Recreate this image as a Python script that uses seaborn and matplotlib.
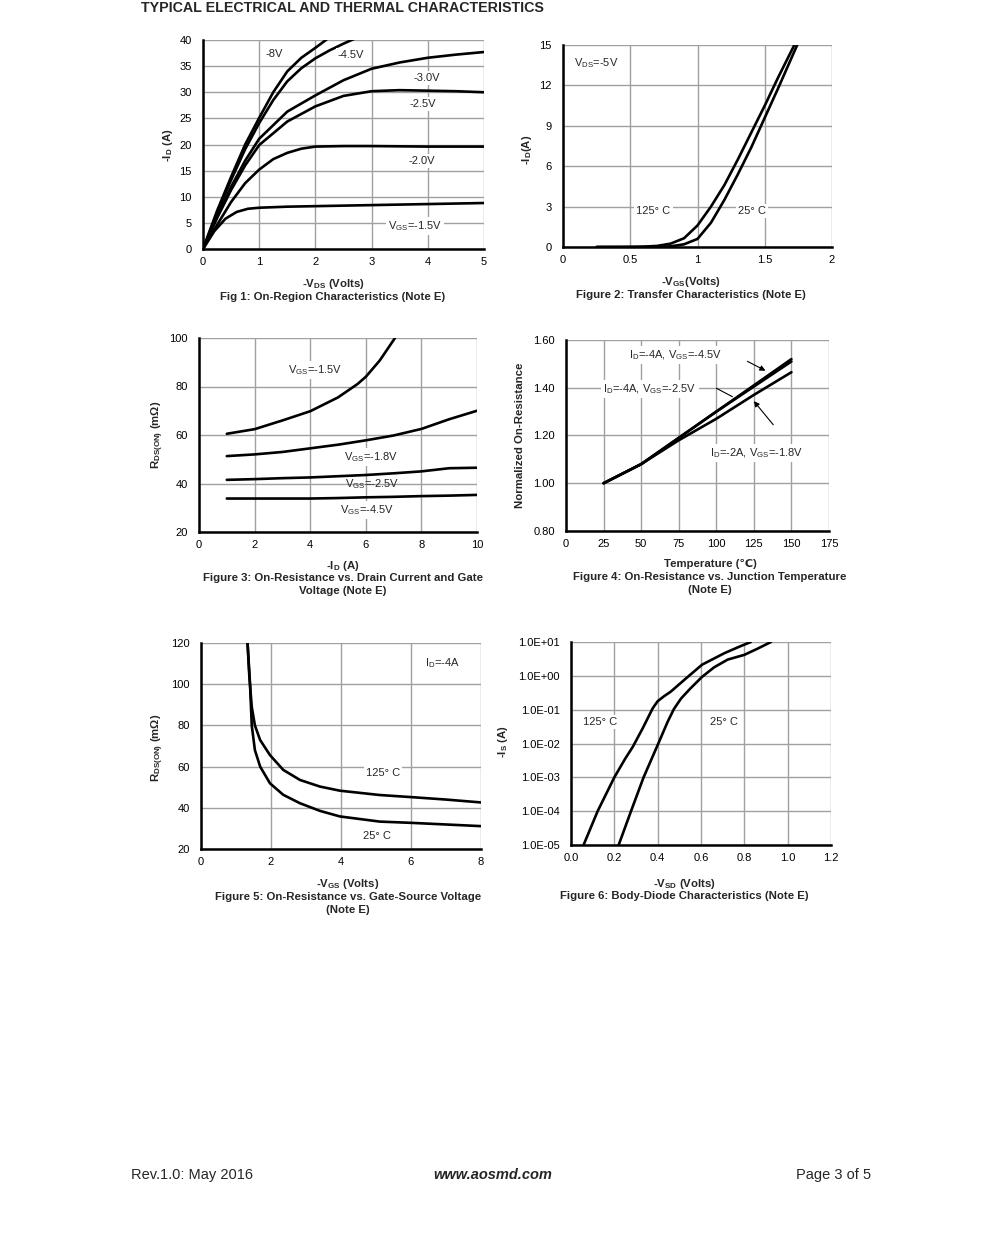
import numpy as np
import matplotlib
matplotlib.use("Agg")
import matplotlib.pyplot as plt
import seaborn as sns

# ---- data ----
# Fig 1: on-region characteristics, -VDS (V) vs -ID (A)
f1_labels = ["-8V", "-4.5V", "-3.0V", "-2.5V", "-2.0V", "-1.5V"]
f1_x = [
    [0, 0.25, 0.5, 0.75, 1.0, 1.25, 1.5, 1.75, 2.0, 2.2],
    [0, 0.25, 0.5, 0.75, 1.0, 1.25, 1.5, 1.75, 2.0, 2.25, 2.5, 2.75],
    [0, 0.25, 0.5, 0.75, 1.0, 1.5, 2.0, 2.5, 3.0, 3.5, 4.0, 4.5, 5.0],
    [0, 0.25, 0.5, 0.75, 1.0, 1.5, 2.0, 2.5, 3.0, 3.5, 4.0, 4.5, 5.0],
    [0, 0.25, 0.5, 0.75, 1.0, 1.25, 1.5, 1.75, 2.0, 2.5, 3.0, 4.0, 5.0],
    [0, 0.2, 0.4, 0.6, 0.8, 1.0, 1.5, 2.0, 3.0, 4.0, 5.0],
]
f1_y = [
    [0, 7.3, 13.8, 20.0, 25.1, 30.0, 34.0, 36.6, 38.5, 40.1],
    [0, 6.9, 13.2, 19.1, 24.1, 28.5, 32.1, 34.6, 36.5, 38.0, 39.3, 40.5],
    [0, 6.2, 11.9, 16.9, 21.1, 26.3, 29.4, 32.3, 34.5, 35.7, 36.6, 37.2, 37.7],
    [0, 5.9, 11.3, 16.0, 19.9, 24.4, 27.3, 29.3, 30.2, 30.4, 30.3, 30.2, 30.0],
    [0, 4.6, 9.0, 12.6, 15.2, 17.2, 18.4, 19.2, 19.6, 19.7, 19.7, 19.6, 19.6],
    [0, 3.4, 5.8, 7.1, 7.7, 7.9, 8.1, 8.2, 8.4, 8.6, 8.8],
]

# Fig 2: transfer characteristics, -VGS (V) vs -ID (A)
f2_x125 = [0.25, 0.5, 0.6, 0.7, 0.8, 0.9, 1.0, 1.1, 1.2, 1.3, 1.4, 1.5, 1.6, 1.73]
f2_y125 = [0, 0.01, 0.03, 0.08, 0.25, 0.65, 1.6, 3.0, 4.6, 6.5, 8.5, 10.5, 12.6, 15.2]
f2_x25 = [0.25, 0.6, 0.7, 0.8, 0.9, 1.0, 1.1, 1.2, 1.3, 1.4, 1.5, 1.6, 1.75]
f2_y25 = [0, 0.0, 0.01, 0.05, 0.2, 0.6, 1.8, 3.5, 5.4, 7.4, 9.6, 11.8, 15.2]

# Fig 3: RDS(on) (mOhm) vs -ID (A)
f3_x = [1, 2, 3, 4, 5, 6, 7, 8, 9, 10]
f3_15_x = [1, 2, 3, 4, 5, 5.7, 6.0, 6.5, 7.05]
f3_15_y = [60.5, 62.4, 66.0, 69.8, 75.5, 81.0, 84.0, 90.7, 100.0]
f3_18 = [51.3, 52.0, 53.0, 54.5, 56.0, 57.8, 59.8, 62.5, 66.5, 70.0]
f3_25 = [41.5, 41.8, 42.2, 42.5, 43.0, 43.5, 44.2, 45.0, 46.3, 46.5]
f3_45 = [33.8, 33.8, 33.8, 33.8, 34.0, 34.3, 34.5, 34.8, 35.0, 35.3]

# Fig 4: normalized RDS(on) vs temperature
f4_t = [25, 50, 75, 100, 125, 150]
f4_45 = [1.00, 1.08, 1.19, 1.30, 1.41, 1.52]
f4_25 = [1.00, 1.08, 1.19, 1.30, 1.405, 1.51]
f4_18 = [1.00, 1.08, 1.18, 1.27, 1.37, 1.465]

# Fig 5: RDS(on) (mOhm) vs -VGS (V)
f5_x25 = [1.33, 1.4, 1.45, 1.54, 1.69, 1.97, 2.35, 2.83, 3.4, 3.97, 5.11, 6.0, 7.0, 8.0]
f5_y25 = [120, 100.4, 80, 68, 60, 51.9, 46.3, 42.2, 38.5, 35.8, 33.3, 32.7, 31.9, 31.1]
f5_x125 = [1.33, 1.38, 1.45, 1.54, 1.69, 1.97, 2.35, 2.83, 3.4, 3.97, 5.11, 6.0, 7.0, 8.0]
f5_y125 = [120, 104, 89, 80, 72.9, 65.6, 58.4, 53.5, 50.3, 48.3, 46.2, 45.2, 44.0, 42.6]

# Fig 6: body diode, -VSD (V) vs -IS (A), log10 values
f6_x125 = [0.058, 0.123, 0.2, 0.25, 0.285, 0.331, 0.377, 0.40, 0.43, 0.46, 0.53, 0.605, 0.708, 0.78, 0.83]
f6_l125 = [-5, -4, -3, -2.45, -2.1, -1.55, -0.96, -0.75, -0.6, -0.47, -0.08, 0.33, 0.67, 0.87, 1.0]
f6_x25 = [0.22, 0.277, 0.335, 0.403, 0.446, 0.475, 0.508, 0.55, 0.605, 0.66, 0.723, 0.8, 0.86, 0.923]
f6_l25 = [-5, -4, -3, -2, -1.36, -0.98, -0.67, -0.38, -0.03, 0.25, 0.48, 0.62, 0.8, 1.0]

sns.set_style("white")
plt.rcParams['font.family'] = ['Liberation Sans', 'DejaVu Sans']
plt.rcParams['mathtext.fontset'] = 'custom'
plt.rcParams['mathtext.rm'] = 'Liberation Sans'
plt.rcParams['mathtext.bf'] = 'Liberation Sans:bold'
plt.rcParams['mathtext.it'] = 'Liberation Sans:italic'

W, H = 991, 1248
fig = plt.figure(figsize=(W / 100, H / 100), dpi=100)


def rect(l, t, r, b):
    return [l / W, 1 - b / H, (r - l) / W, (b - t) / H]


def ftext(x, y, s, **kw):
    kw.setdefault('ha', 'center')
    kw.setdefault('va', 'center')
    fig.text(x / W, 1 - y / H, s, **kw)


def style(ax):
    ax.grid(True, color='#a0a0a0', lw=1.0)
    for sp in ['top', 'right']:
        ax.spines[sp].set_visible(False)
    for sp in ['left', 'bottom']:
        ax.spines[sp].set_color('black')
        ax.spines[sp].set_linewidth(1.8)
        ax.spines[sp].set_zorder(5)
    ax.tick_params(axis='both', length=0, labelsize=8, colors='black')
    ax.tick_params(axis='y', pad=8)
    ax.tick_params(axis='x', pad=6)
    ax.set_xlabel('')
    ax.set_ylabel('')


box = dict(fc='white', ec='none', pad=1.5)
LW = 1.9
FS = 8.2
tk = dict(fontsize=8, ha='center', va='center', bbox=box, zorder=6)
lab = dict(fontsize=FS, fontweight='bold')

# ---------- Fig 1 ----------
ax1 = fig.add_axes(rect(203, 40, 484, 249))
for xs, ys in zip(f1_x, f1_y):
    sns.lineplot(x=xs, y=ys, ax=ax1, color='black', lw=LW)
ax1.set_xlim(0, 5)
ax1.set_ylim(0, 40)
ax1.set_xticks(range(0, 6))
ax1.set_yticks(range(0, 45, 5))
style(ax1)
ax1.text(1.26, 37.3, "-8V", **tk)
ax1.text(2.63, 37.1, "-4.5V", **tk)
ax1.text(3.99, 32.7, "-3.0V", **tk)
ax1.text(3.91, 27.8, "-2.5V", **tk)
ax1.text(3.90, 16.8, "-2.0V", **tk)
ax1.text(3.77, 4.4, r"V$_\mathrm{GS}$=-1.5V", **tk)
ftext(168, 145, r"-I$_\mathbf{D}$ (A)", rotation=90, **lab)
ftext(333, 284, r"-V$_\mathbf{DS}$ (Volts)", **lab)
ftext(333, 297, "Fig 1: On-Region Characteristics (Note E)", **lab)

# ---------- Fig 2 ----------
ax2 = fig.add_axes(rect(563, 45, 832, 247))
sns.lineplot(x=f2_x125, y=f2_y125, ax=ax2, color='black', lw=LW)
sns.lineplot(x=f2_x25, y=f2_y25, ax=ax2, color='black', lw=LW)
ax2.set_xlim(0, 2)
ax2.set_ylim(0, 15)
ax2.set_xticks([0, 0.5, 1, 1.5, 2])
ax2.set_xticklabels(["0", "0.5", "1", "1.5", "2"])
ax2.set_yticks(range(0, 18, 3))
style(ax2)
ax2.text(0.246, 13.66, r"V$_\mathrm{DS}$=-5V", **tk)
ax2.text(0.672, 2.67, "125° C", **tk)
ax2.text(1.403, 2.67, "25° C", **tk)
ftext(527, 150, r"-I$_\mathbf{D}$(A)", rotation=90, **lab)
ftext(691, 282, r"-V$_\mathbf{GS}$(Volts)", **lab)
ftext(691, 295, "Figure 2: Transfer Characteristics (Note E)", **lab)

# ---------- Fig 3 ----------
ax3 = fig.add_axes(rect(199, 338, 477, 532))
sns.lineplot(x=f3_15_x, y=f3_15_y, ax=ax3, color='black', lw=LW)
for ys in [f3_18, f3_25, f3_45]:
    sns.lineplot(x=f3_x, y=ys, ax=ax3, color='black', lw=LW)
ax3.set_xlim(0, 10)
ax3.set_ylim(20, 100)
ax3.set_xticks(range(0, 12, 2))
ax3.set_yticks(range(20, 120, 20))
style(ax3)
ax3.text(4.17, 86.8, r"V$_\mathrm{GS}$=-1.5V", **tk)
ax3.text(6.19, 50.9, r"V$_\mathrm{GS}$=-1.8V", **tk)
ax3.text(6.22, 39.8, r"V$_\mathrm{GS}$=-2.5V", fontsize=8, ha='center', va='center', zorder=6)
ax3.text(6.04, 29.1, r"V$_\mathrm{GS}$=-4.5V", **tk)
ftext(158, 435, r"R$_\mathbf{DS(ON)}$ (m$\mathbf{\Omega}$)", rotation=90, **lab)
ftext(343, 566, r"-I$_\mathbf{D}$ (A)", **lab)
ftext(343, 578, "Figure 3: On-Resistance vs. Drain Current and Gate", **lab)
ftext(343, 591, "Voltage (Note E)", **lab)

# ---------- Fig 4 ----------
ax4 = fig.add_axes(rect(566, 340, 829, 531))
for ys in [f4_45, f4_25, f4_18]:
    sns.lineplot(x=f4_t, y=ys, ax=ax4, color='black', lw=LW)
ax4.set_xlim(0, 175)
ax4.set_ylim(0.8, 1.6)
ax4.set_xticks(range(0, 200, 25))
ax4.set_yticks([0.8, 1.0, 1.2, 1.4, 1.6])
ax4.set_yticklabels(["0.80", "1.00", "1.20", "1.40", "1.60"])
style(ax4)
ax4.text(73.2, 1.537, r"I$_\mathrm{D}$=-4A, V$_\mathrm{GS}$=-4.5V", **tk)
ax4.text(55.9, 1.395, r"I$_\mathrm{D}$=-4A, V$_\mathrm{GS}$=-2.5V", **tk)
ax4.text(127.1, 1.127, r"I$_\mathrm{D}$=-2A, V$_\mathrm{GS}$=-1.8V", **tk)
ax4.annotate('', xy=(134.4, 1.466), xytext=(119.1, 1.516),
             arrowprops=dict(arrowstyle='-|>', lw=0.8, color='black', mutation_scale=8))
ax4.annotate('', xy=(112.4, 1.357), xytext=(98.5, 1.403),
             arrowprops=dict(arrowstyle='-', lw=0.8, color='black'))
ax4.annotate('', xy=(123.8, 1.353), xytext=(139.1, 1.236),
             arrowprops=dict(arrowstyle='-|>', lw=0.8, color='black', mutation_scale=8))
ftext(520, 435, "Normalized On-Resistance", rotation=90, **lab)
ftext(710, 564, "Temperature (℃)", **lab)
ftext(710, 577, "Figure 4: On-Resistance vs. Junction Temperature", **lab)
ftext(710, 590, "(Note E)", **lab)

# ---------- Fig 5 ----------
ax5 = fig.add_axes(rect(201, 643, 481, 849))
sns.lineplot(x=f5_x25, y=f5_y25, ax=ax5, color='black', lw=LW)
sns.lineplot(x=f5_x125, y=f5_y125, ax=ax5, color='black', lw=LW)
ax5.set_xlim(0, 8)
ax5.set_ylim(20, 120)
ax5.set_xticks(range(0, 10, 2))
ax5.set_yticks(range(20, 140, 20))
style(ax5)
ax5.text(6.91, 110.3, r"I$_\mathrm{D}$=-4A", **tk)
ax5.text(5.2, 56.9, "125° C", **tk)
ax5.text(5.03, 26.3, "25° C", **tk)
ftext(158, 748, r"R$_\mathbf{DS(ON)}$ (m$\mathbf{\Omega}$)", rotation=90, **lab)
ftext(348, 884, r"-V$_\mathbf{GS}$ (Volts)", **lab)
ftext(348, 897, "Figure 5: On-Resistance vs. Gate-Source Voltage", **lab)
ftext(348, 910, "(Note E)", **lab)

# ---------- Fig 6 ----------
ax6 = fig.add_axes(rect(571, 642, 831, 845))
sns.lineplot(x=f6_x125, y=10 ** np.array(f6_l125), ax=ax6, color='black', lw=LW)
sns.lineplot(x=f6_x25, y=10 ** np.array(f6_l25), ax=ax6, color='black', lw=LW)
ax6.set_yscale('log')
ax6.set_xlim(0, 1.2)
ax6.set_ylim(1e-5, 1e1)
ax6.set_xticks(np.arange(0, 1.4, 0.2))
ax6.set_xticklabels(["0.0", "0.2", "0.4", "0.6", "0.8", "1.0", "1.2"])
ax6.set_yticks([1e-5, 1e-4, 1e-3, 1e-2, 1e-1, 1e0, 1e1])
ax6.set_yticklabels(["1.0E-05", "1.0E-04", "1.0E-03", "1.0E-02", "1.0E-01", "1.0E+00", "1.0E+01"])
ax6.minorticks_off()
style(ax6)
ax6.text(0.134, 0.0437, "125° C", **tk)
ax6.text(0.706, 0.0437, "25° C", **tk)
ftext(503, 742, r"-I$_\mathbf{S}$ (A)", rotation=90, **lab)
ftext(684, 884, r"-V$_\mathbf{SD}$ (Volts)", **lab)
ftext(684, 896, "Figure 6: Body-Diode Characteristics (Note E)", **lab)

# ---------- page text ----------
ftext(141, 8, "TYPICAL ELECTRICAL AND THERMAL CHARACTERISTICS", fontsize=10.3, fontweight='bold', ha='left')
ftext(131, 1175, "Rev.1.0: May 2016", fontsize=10.5, ha='left')
ftext(493, 1175, "www.aosmd.com", fontsize=10.5, fontweight='bold', fontstyle='italic')
ftext(871, 1175, "Page 3 of 5", fontsize=10.5, ha='right')

fig.savefig("out.png", dpi=100, facecolor='white')
